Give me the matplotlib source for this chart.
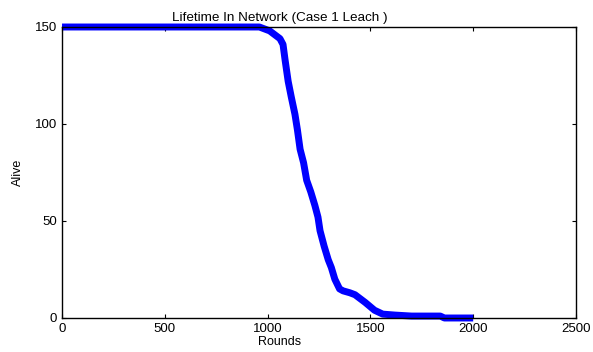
import matplotlib
matplotlib.use("Agg")
import matplotlib.pyplot as plt

# --------------------------------------------------
# Data
# --------------------------------------------------

rounds = [0, 960, 985, 1010, 1035, 1060, 1075, 1085, 1100, 1115, 1133, 1145,
          1158, 1175, 1190, 1210, 1230, 1245, 1255, 1275, 1295, 1310, 1327,
          1350, 1367, 1400, 1425, 1450, 1475, 1520, 1560, 1620, 1700, 1840,
          1860, 2000]
alive = [150, 150, 149, 148, 146, 144, 141, 133, 122, 114, 105, 97,
         87, 80, 71, 65, 58, 52, 45, 37, 30, 26, 20,
         15, 14, 13, 12, 10, 8, 4, 2, 1.5, 1, 1,
         0, 0]

x_ticks = [0, 500, 1000, 1500, 2000, 2500]
y_ticks = [0, 50, 100, 150]

# --------------------------------------------------
# Plot
# --------------------------------------------------

plt.rcParams["font.family"] = ["Liberation Sans", "DejaVu Sans"]

fig = plt.figure(figsize=(5.93, 3.52), dpi=100)
ax = fig.add_axes([0.1046, 0.0966, 0.8667, 0.8267])

ax.plot(rounds, alive, color="#0000ff", linewidth=5, solid_capstyle="butt",
        clip_on=False)

ax.set_xlim(0, 2500)
ax.set_ylim(0, 150)
ax.set_xticks(x_ticks)
ax.set_yticks(y_ticks)

ax.tick_params(direction="in", top=True, right=True, length=3,
               labelsize=9.5, width=0.8)

for spine in ax.spines.values():
    spine.set_linewidth(1.0)

ax.set_xlabel("Rounds", fontsize=9, labelpad=1, x=0.424)
ax.set_ylabel("Alive", fontsize=9, labelpad=8)
ax.set_title("Lifetime In Network (Case 1 Leach )", fontsize=9.7, pad=4,
             x=0.424)

plt.savefig("out.png", dpi=100)
plt.close()
